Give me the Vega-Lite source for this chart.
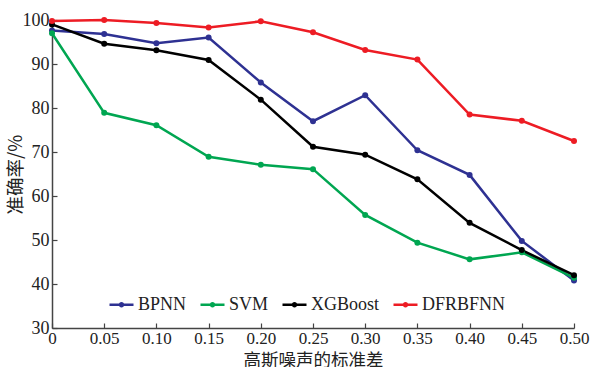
{
  "$schema": "https://vega.github.io/schema/vega-lite/v6.json",
  "autosize": {"type": "none"},
  "padding": {"left": 52, "top": 20, "right": 17, "bottom": 39},
  "width": 522,
  "height": 308,
  "background": "white",
  "config": {
    "view": {"stroke": null},
    "font": "Liberation Serif"
  },
  "data": {
    "values": [
      {"model": "BPNN", "x": 0, "acc": 97.6},
      {"model": "BPNN", "x": 0.05, "acc": 96.8},
      {"model": "BPNN", "x": 0.10, "acc": 94.7},
      {"model": "BPNN", "x": 0.15, "acc": 96.0},
      {"model": "BPNN", "x": 0.20, "acc": 85.8},
      {"model": "BPNN", "x": 0.25, "acc": 77.0},
      {"model": "BPNN", "x": 0.30, "acc": 82.9},
      {"model": "BPNN", "x": 0.35, "acc": 70.4},
      {"model": "BPNN", "x": 0.40, "acc": 64.8},
      {"model": "BPNN", "x": 0.45, "acc": 49.8},
      {"model": "BPNN", "x": 0.50, "acc": 40.8},
      {"model": "SVM", "x": 0, "acc": 97.0},
      {"model": "SVM", "x": 0.05, "acc": 78.9},
      {"model": "SVM", "x": 0.10, "acc": 76.1},
      {"model": "SVM", "x": 0.15, "acc": 68.9},
      {"model": "SVM", "x": 0.20, "acc": 67.1},
      {"model": "SVM", "x": 0.25, "acc": 66.1},
      {"model": "SVM", "x": 0.30, "acc": 55.7},
      {"model": "SVM", "x": 0.35, "acc": 49.4},
      {"model": "SVM", "x": 0.40, "acc": 45.6},
      {"model": "SVM", "x": 0.45, "acc": 47.2},
      {"model": "SVM", "x": 0.50, "acc": 41.4},
      {"model": "XGBoost", "x": 0, "acc": 99.0},
      {"model": "XGBoost", "x": 0.05, "acc": 94.6},
      {"model": "XGBoost", "x": 0.10, "acc": 93.1},
      {"model": "XGBoost", "x": 0.15, "acc": 90.9},
      {"model": "XGBoost", "x": 0.20, "acc": 81.9},
      {"model": "XGBoost", "x": 0.25, "acc": 71.2},
      {"model": "XGBoost", "x": 0.30, "acc": 69.4},
      {"model": "XGBoost", "x": 0.35, "acc": 63.8},
      {"model": "XGBoost", "x": 0.40, "acc": 53.9},
      {"model": "XGBoost", "x": 0.45, "acc": 47.7},
      {"model": "XGBoost", "x": 0.50, "acc": 42.0},
      {"model": "DFRBFNN", "x": 0, "acc": 99.8},
      {"model": "DFRBFNN", "x": 0.05, "acc": 100.0},
      {"model": "DFRBFNN", "x": 0.10, "acc": 99.3},
      {"model": "DFRBFNN", "x": 0.15, "acc": 98.3},
      {"model": "DFRBFNN", "x": 0.20, "acc": 99.7},
      {"model": "DFRBFNN", "x": 0.25, "acc": 97.2},
      {"model": "DFRBFNN", "x": 0.30, "acc": 93.2},
      {"model": "DFRBFNN", "x": 0.35, "acc": 91.0},
      {"model": "DFRBFNN", "x": 0.40, "acc": 78.5},
      {"model": "DFRBFNN", "x": 0.45, "acc": 77.1},
      {"model": "DFRBFNN", "x": 0.50, "acc": 72.5}
    ]
  },
  "mark": {"type": "line", "strokeWidth": 2.5, "point": {"filled": true, "size": 36, "opacity": 1}},
  "encoding": {
    "x": {
      "field": "x", "type": "quantitative",
      "scale": {"domain": [0, 0.5], "nice": false, "zero": false},
      "axis": {
        "values": [0, 0.05, 0.1, 0.15, 0.2, 0.25, 0.3, 0.35, 0.4, 0.45, 0.5],
        "labelExpr": "datum.value == 0 ? '0' : format(datum.value, '.2f')",
        "title": "高斯噪声的标准差",
        "titleFont": "Noto Sans CJK SC",
        "titleFontWeight": "normal",
        "titleFontSize": 17.5,
        "titleColor": "#222",
        "titleBaseline": "alphabetic",
        "titleY": 37,
        "labelFont": "Liberation Serif",
        "labelFontSize": 17,
        "labelColor": "#222",
        "labelPadding": 7,
        "labelFlush": false,
        "tickSize": -5,
        "tickColor": "#444",
        "tickWidth": 1.2,
        "domainColor": "#444",
        "domainWidth": 1.5,
        "grid": false
      }
    },
    "y": {
      "field": "acc", "type": "quantitative",
      "scale": {"domain": [30, 100], "nice": false, "zero": false},
      "axis": {
        "values": [30, 40, 50, 60, 70, 80, 90, 100],
        "title": "准确率/%",
        "titleFont": "Noto Sans CJK SC",
        "titleFontWeight": "normal",
        "titleFontSize": 18.5,
        "titleColor": "#222",
        "titlePadding": -3,
        "labelFont": "Liberation Serif",
        "labelFontSize": 18,
        "labelColor": "#222",
        "labelPadding": 8,
        "labelFlush": false,
        "tickSize": -5,
        "tickColor": "#444",
        "tickWidth": 1.2,
        "domainColor": "#444",
        "domainWidth": 1.5,
        "grid": false
      }
    },
    "color": {
      "field": "model", "type": "nominal",
      "scale": {
        "domain": ["BPNN", "SVM", "XGBoost", "DFRBFNN"],
        "range": ["#2E3192", "#00A651", "#000000", "#ED1C24"]
      },
      "legend": {
        "title": null,
        "orient": "none",
        "direction": "horizontal",
        "legendX": 56,
        "legendY": 271,
        "symbolType": "M-1,0H1M-0.12,0a0.12,0.12 0 1,0 0.24,0a0.12,0.12 0 1,0 -0.24,0",
        "symbolSize": 576,
        "symbolStrokeWidth": 2.5,
        "symbolOpacity": 1,
        "labelFont": "Liberation Serif",
        "labelFontSize": 18,
        "labelColor": "#222",
        "labelOffset": 3,
        "columnPadding": 8
      }
    },
    "order": {"field": "x", "type": "quantitative"}
  }
}
